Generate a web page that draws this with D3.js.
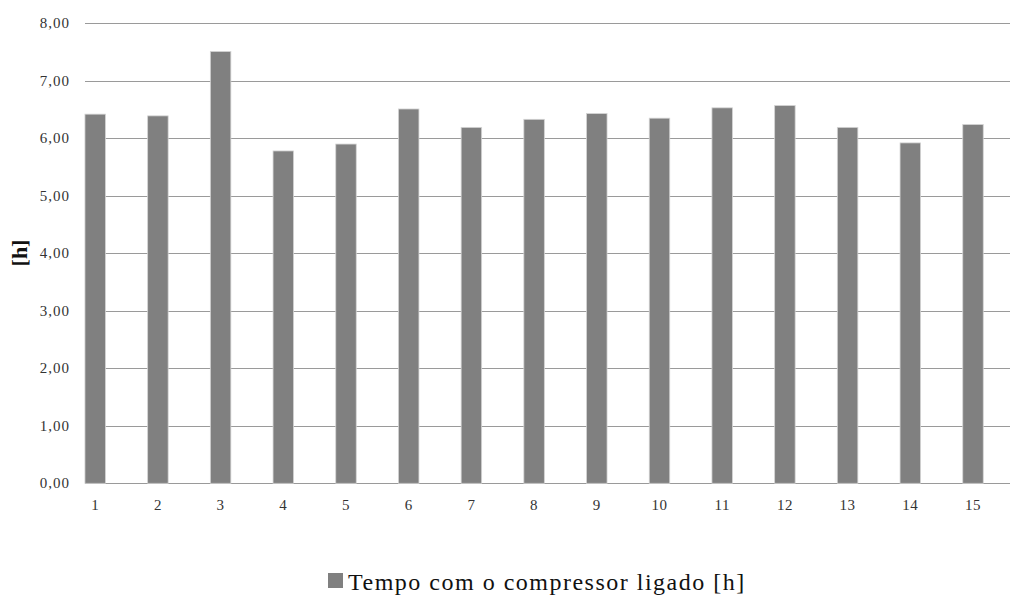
<!DOCTYPE html>
<html><head><meta charset="utf-8">
<script src="https://cdn.jsdelivr.net/npm/d3@7"></script>
<style>body{margin:0;background:#fff}svg{display:block}text{font-family:"Liberation Serif","Times New Roman",serif}</style>
</head><body>
<svg id="c" width="1016" height="597"></svg>
<script>
const categories = ["1","2","3","4","5","6","7","8","9","10","11","12","13","14","15"];
const values = [6.42,6.39,7.51,5.78,5.90,6.51,6.19,6.33,6.43,6.35,6.53,6.57,6.19,5.92,6.24];
const yTicks = [0,1,2,3,4,5,6,7,8];
const seriesName = "Tempo com o compressor ligado [h]";
const yTitle = "[h]";

const svg = d3.select("#c");
const y = d3.scaleLinear().domain([0,8]).range([483.3,23.3]);
const step = 62.7;
const x = d3.scaleBand().domain(categories)
  .range([95.2 - step/2, 95.2 - step/2 + step*categories.length])
  .paddingInner(0.673).paddingOuter(0.3365);
const gx0 = 85, gx1 = 1010;

const grid = svg.append("g");
grid.selectAll("line").data(yTicks).join("line")
  .attr("x1", gx0).attr("x2", gx1)
  .attr("y1", d => Math.round(y(d)) + 0.5).attr("y2", d => Math.round(y(d)) + 0.5)
  .attr("stroke", "#9a9a9a").attr("stroke-width", 1);

svg.append("g").selectAll("rect").data(values).join("rect")
  .attr("x", (d,i) => x(categories[i]))
  .attr("width", x.bandwidth())
  .attr("y", d => y(d))
  .attr("height", d => y(0) - y(d))
  .attr("fill", "#808080")
  .attr("stroke", "#d4d4d4").attr("stroke-width", 0.8);

svg.append("g").selectAll("text").data(yTicks).join("text")
  .attr("x", 70).attr("y", d => y(d) + 5)
  .attr("text-anchor", "end")
  .attr("font-size", 15).attr("letter-spacing", 1).attr("fill", "#333")
  .text(d => d3.format(".2f")(d).replace(".", ","));

svg.append("g").selectAll("text").data(categories).join("text")
  .attr("x", d => x(d) + x.bandwidth()/2).attr("y", 510)
  .attr("text-anchor", "middle")
  .attr("font-size", 15).attr("letter-spacing", 0.5).attr("fill", "#333")
  .text(d => d);

svg.append("text")
  .attr("transform", "translate(27,253) rotate(-90)")
  .attr("text-anchor", "middle")
  .attr("font-size", 22).attr("font-weight", "bold").attr("fill", "#111")
  .text(yTitle);

const leg = svg.append("g");
leg.append("rect").attr("x", 328).attr("y", 573).attr("width", 15).attr("height", 15).attr("fill", "#808080");
leg.append("text").attr("x", 348).attr("y", 590)
  .attr("font-size", 24).attr("letter-spacing", 1.5).attr("fill", "#111")
  .text(seriesName);
</script>
</body></html>
